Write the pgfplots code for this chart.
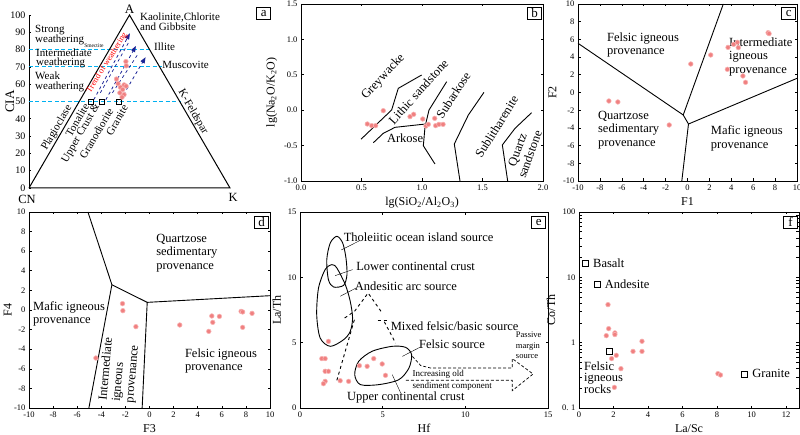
\documentclass[border=0pt]{standalone}
\usepackage{pgfplots}
\pgfplotsset{compat=1.18}
\usepackage{fontspec}
\setmainfont{Liberation Serif}
\usetikzlibrary{arrows.meta}
\definecolor{ptfill}{RGB}{240,128,128}
\definecolor{ptdraw}{RGB}{248,180,180}
\definecolor{cyanl}{RGB}{0,176,240}
\definecolor{dblue}{RGB}{25,35,150}
\pgfplotsset{
  base/.style={scale only axis, anchor=south west, clip=false,
    tick label style={font=\fontsize{8.5}{8.5}\selectfont},
    label style={font=\fontsize{12}{12}\selectfont},
    /pgf/number format/assume math mode=true,
    tick align=inside, major tick length=2.5pt,
    axis line style={line width=0.9pt},
    every tick/.style={black, line width=0.6pt},
  },
  smp/.style={only marks, mark=*, mark size=2.3pt, mark options={fill=ptfill, draw=ptdraw, line width=0.6pt}},
  bnd/.style={black, line width=0.9pt, mark=none},
}
\tikzset{reg/.style={font=\fontsize{12.5}{13.3}\selectfont, align=left, anchor=north west, inner sep=0pt},
  lab/.style={font=\fontsize{12.5}{13}\selectfont, anchor=west, inner sep=0pt},
  la/.style={font=\fontsize{11}{11}\selectfont, anchor=west, inner sep=0pt}}
\newcommand{\plab}[3]{\node[draw, line width=0.7pt, inner sep=0pt, minimum width=14pt, minimum height=12pt, anchor=north east, font=\fontsize{13}{13}\selectfont, fill=white, xshift=#2, yshift=#3] at (rel axis cs:1,1) {#1};}
\begin{document}
\begin{tikzpicture}
\path[use as bounding box] (0,0) rectangle (800pt,434pt);
% ---------------- panel a ----------------
\begin{axis}[base, at={(29pt,246pt)}, width=201pt, height=173pt,
  xmin=0,xmax=100,ymin=0,ymax=100, axis x line=none, axis y line*=left,
  ytick={0,10,...,100}, tick label style={font=\fontsize{10}{10}\selectfont},
  ylabel={CIA}, every axis y label/.style={at={(axis description cs:-0.095,0.5)}, rotate=90, anchor=center, font=\fontsize{13}{13}\selectfont}]
\addplot[cyanl, line width=1.1pt, dash pattern=on 4pt off 2.5pt] coordinates {(0,50.2)(75.5,50.2)};
\addplot[cyanl, line width=1pt, dash pattern=on 4pt off 2.5pt] coordinates {(0,70)(66,70)};
\addplot[cyanl, line width=1pt, dash pattern=on 4pt off 2.5pt] coordinates {(0,80)(61,80)};
\addplot[bnd, line width=1pt] coordinates {(0,0)(50,100)(100,0)(0,0)};
\addplot[dblue, dashed, line width=0.8pt, -{Triangle[length=6pt,width=4.5pt]}] coordinates {(32.2,51)(50.2,89.4)};
\addplot[dblue, dashed, line width=0.8pt, -{Triangle[length=6pt,width=4.5pt]}] coordinates {(38.2,51)(53.2,82.1)};
\addplot[dblue, dashed, line width=0.8pt, -{Triangle[length=6pt,width=4.5pt]}] coordinates {(45.5,51)(58,75.6)};
\addplot[dblue, dashed, line width=0.7pt] coordinates {(35.5,55)(49.5,84)};
\addplot[dblue, dashed, line width=0.7pt] coordinates {(41.5,55)(54,77)};
\addplot[only marks, mark=square, mark size=2.6pt, black, line width=0.7pt, mark options={fill=white}] coordinates {(30.6,50)(36.2,50)(44.9,50)};
\addplot[smp] coordinates {(48.2,73.1)(48.4,70.6)(43.5,63)(44.3,60.3)(45.5,58.2)(47.3,59.6)(48.3,58.9)(46.6,56.9)(45.2,55.0)(47.3,54.0)(46.3,52.5)};
\node[font=\fontsize{13}{13}\selectfont, anchor=south, inner sep=1pt] at (axis cs:50,100) {A};
\node[font=\fontsize{12.5}{13}\selectfont] at (axis cs:-1,-6.4) {CN};
\node[font=\fontsize{12.5}{13}\selectfont] at (axis cs:101.5,-5.2) {K};
\node[la] at (axis cs:3,91.3) {Strong};
\node[la] at (axis cs:3,85.5) {weathering};
\node[font=\fontsize{5.5}{5.5}\selectfont, anchor=west, inner sep=0pt] at (axis cs:27.4,82.3) {Smectite};
\node[la] at (axis cs:3.5,78) {Intermediate};
\node[la] at (axis cs:3.5,72.3) {weathering};
\node[la] at (axis cs:3,64.7) {Weak};
\node[la] at (axis cs:3,58.4) {weathering};
\node[la] at (axis cs:55.2,98.8) {Kaolinite,Chlorite};
\node[la] at (axis cs:55.2,93.1) {and Gibbsite};
\node[la] at (axis cs:62.2,81.5) {Illite};
\node[la] at (axis cs:66.2,71.1) {Muscovite};
\node[font=\fontsize{11}{11}\selectfont, rotate=-59.8] at (axis cs:81.6,43.9) {K-Feldspar};
\node[font=\fontsize{11}{11}\selectfont, rotate=59.8] at (axis cs:13.9,34.7) {Plagioclase};
\node[font=\fontsize{11}{11}\selectfont, rotate=59.8] at (axis cs:24,39.3) {Tonalite};
\node[font=\fontsize{11}{11}\selectfont, rotate=59.8] at (axis cs:25.9,31.5) {Upper Crust \&};
\node[font=\fontsize{11}{11}\selectfont, rotate=59.8] at (axis cs:33.5,31.5) {Granodiorite};
\node[font=\fontsize{11}{11}\selectfont, rotate=59.8] at (axis cs:43.8,39.3) {Granite};
\node[font=\fontsize{8.5}{8.5}\selectfont, rotate=58, red] at (axis cs:38.8,72.3) {Trend of weathering};
\plab{a}{41pt}{8pt}
\end{axis}
% ---------------- panel b ----------------
\begin{axis}[base, at={(301pt,253pt)}, width=242pt, height=177pt,
  xmin=0,xmax=2,ymin=-1,ymax=1.5, xtick={0,0.5,1,1.5,2}, ytick={-1,-0.5,0,0.5,1,1.5},
  xticklabel style={/pgf/number format/.cd, fixed, fixed zerofill, precision=1},
  yticklabel style={/pgf/number format/.cd, fixed, fixed zerofill, precision=1},
  xlabel={lg(SiO\textsubscript{2}/Al\textsubscript{2}O\textsubscript{3})},
  ylabel={lg(Na\textsubscript{2}O/K\textsubscript{2}O)}]
\addplot[bnd] coordinates {(0.496,-0.41)(0.749,0.003)(0.804,0.309)(0.997,0.497)};
\addplot[bnd] coordinates {(0.598,-0.459)(0.68,-0.327)(0.777,-0.242)(1.03,-0.195)};
\addplot[bnd] coordinates {(1.107,-0.76)(1.011,-0.502)(1.025,-0.234)(1.058,0.003)(1.204,0.403)};
\addplot[bnd] coordinates {(1.314,-1.0)(1.267,-0.477)(1.383,-0.068)(1.512,0.252)};
\addplot[bnd] coordinates {(1.708,-1.0)(1.664,-0.491)(1.769,-0.256)(1.906,-0.035)};
\addplot[smp] coordinates {(0.548,-0.195)(0.584,-0.218)(0.617,-0.218)(0.680,-0.007)(0.901,-0.091)(0.931,-0.058)(1.006,-0.124)(1.033,-0.223)(1.052,-0.2)(1.105,-0.115)(1.113,-0.218)(1.14,-0.2)(1.174,-0.2)};
\node[font=\fontsize{12.5}{13}\selectfont, rotate=47] at (axis cs:0.68,0.47) {Greywacke};
\node[font=\fontsize{12.5}{13}\selectfont, rotate=48] at (axis cs:0.97,0.262) {Lithic sandstone};
\node[font=\fontsize{12.5}{13}\selectfont, rotate=57] at (axis cs:1.259,0.215) {Subarkose};
\node[font=\fontsize{12.5}{13}\selectfont] at (axis cs:0.86,-0.40) {Arkose};
\node[font=\fontsize{12.5}{13}\selectfont, rotate=58] at (axis cs:1.617,-0.233) {Sublitharenite};
\node[font=\fontsize{12.5}{13.3}\selectfont, rotate=70, align=center] at (axis cs:1.84,-0.59) {Quartz\\sandstone};
\plab{b}{-1pt}{-3pt}
\end{axis}
% ---------------- panel c ----------------
\begin{axis}[base, at={(578pt,253pt)}, width=219pt, height=177pt,
  xmin=-10,xmax=10,ymin=-10,ymax=10, xtick={-10,-8,...,10}, ytick={-10,-8,...,10},
  xlabel={F1}, ylabel={F2}]
\addplot[bnd] coordinates {(-10,5.56)(-0.39,-2.54)};
\addplot[bnd] coordinates {(-0.39,-2.54)(3.27,10)};
\addplot[bnd] coordinates {(-0.39,-2.54)(0.09,-3.56)};
\addplot[bnd] coordinates {(0.09,-3.56)(10,1.6)};
\addplot[bnd] coordinates {(0.09,-3.56)(-0.52,-10)};
\addplot[smp] coordinates {(-7.18,-0.96)(-6.36,-1.07)(-1.67,-3.67)(0.30,3.22)(2.12,4.24)(3.70,5.1)(4.21,5.44)(4.55,5.67)(4.64,5.07)(3.64,2.62)(5.06,1.87)(5.3,1.15)(7.36,6.76)(7.45,6.65)};
\node[reg] at (axis cs:-7.36,6.8) {Felsic igneous\\provenance};
\node[reg] at (axis cs:3.79,6.2) {Intermediate\\igneous\\provenance};
\node[reg] at (axis cs:-8.18,-2.09) {Quartzose\\sedimentary\\provenance};
\node[reg] at (axis cs:2.12,-3.78) {Mafic igneous\\provenance};
\plab{c}{-1pt}{-3pt}
\end{axis}
% ---------------- panel d ----------------
\begin{axis}[base, at={(29pt,26pt)}, width=241pt, height=196pt,
  xmin=-10,xmax=10,ymin=-10,ymax=10, xtick={-10,-8,...,10}, ytick={-10,-8,...,10},
  xlabel={F3}, ylabel={F4}, every axis y label/.style={at={(axis description cs:-0.088,0.5)}, rotate=90, anchor=center, font=\fontsize{12}{12}\selectfont}]
\addplot[bnd] coordinates {(-5.11,10)(-3.12,2.58)};
\addplot[bnd] coordinates {(-3.12,2.58)(-0.19,0.78)};
\addplot[bnd] coordinates {(-0.19,0.78)(10,1.46)};
\addplot[bnd] coordinates {(-3.12,2.58)(-5.03,-10)};
\addplot[bnd] coordinates {(-0.19,0.78)(-0.61,-10)};
\addplot[smp] coordinates {(-2.24,0.65)(-2.21,-0.07)(-1.13,-1.70)(-4.45,-4.9)(2.51,-1.53)(4.92,-2.18)(5.17,-0.61)(5.25,-1.26)(5.8,-0.65)(7.6,-0.14)(7.73,-0.2)(8.51,-0.34)(7.73,-1.77)};
\node[reg] at (axis cs:0.55,7.76) {Quartzose\\sedimentary\\provenance};
\node[reg] at (axis cs:-9.67,0.88) {Mafic igneous\\provenance};
\node[reg] at (axis cs:2.93,-3.95) {Felsic igneous\\provenance};
\node[reg, rotate=85] at (axis cs:-4.3,-9.2) {Intermediate\\igneous\\provenance};
\plab{d}{-1pt}{-4pt}
\end{axis}
% ---------------- panel e ----------------
\begin{axis}[base, at={(300pt,26pt)}, width=248pt, height=196pt,
  xmin=0,xmax=15,ymin=0,ymax=15, xtick={0,5,10,15}, ytick={0,5,10,15},
  xlabel={Hf}, ylabel={La/Th}]
\addplot[bnd, smooth cycle] coordinates {(2.23,13.14)(2.58,12.63)(2.78,11.48)(2.84,10.2)(2.64,9.39)(2.03,9.26)(1.72,9.82)(1.62,11.35)(1.83,12.63)};
\addplot[bnd, smooth cycle] coordinates {(1.93,10.97)(2.23,10.71)(2.74,9.44)(3.04,8.16)(3.18,6.89)(3.04,5.87)(2.64,5.23)(1.83,4.72)(1.22,5.36)(1.01,7.14)(1.12,9.18)(1.52,10.59)};
\addplot[bnd, smooth cycle] coordinates {(3.55,3.57)(4.36,4.34)(5.58,4.72)(6.39,4.64)(6.75,4.08)(6.59,3.06)(5.98,2.17)(4.77,1.79)(3.65,1.79)(3.31,2.55)};
\addplot[bnd, dashed] coordinates {(2.23,2.12)(3.31,6.85)};
\addplot[bnd, dashed] coordinates {(2.70,6.89)(3.3,7.4)(4.12,8.8)(4.97,7.27)};
\addplot[bnd, dashed] coordinates {(4.7,6.68)(5.4,6.68)};
\addplot[bnd, dashed] coordinates {(5.1,6.6)(5.78,4.97)};
\addplot[black, line width=0.7pt, densely dashed] coordinates {(6.8,3.95)(7.3,3.25)(7.9,3.06)(12.84,3.06)(12.84,3.78)(14.1,2.6)(12.84,1.33)(12.84,2.12)(6.39,2.12)};
\addplot[black, line width=0.4pt] coordinates {(2.5,12.1)(3.6,12.8)};
\addplot[black, line width=0.4pt] coordinates {(2.13,10.13)(3.18,10.59)};
\addplot[black, line width=0.4pt] coordinates {(2.43,8.55)(3.39,9.18)};
\addplot[black, line width=0.4pt] coordinates {(6.19,3.95)(7.24,4.64)};
\addplot[black, line width=0.4pt] coordinates {(5.58,2.55)(6.09,1.15)};
\addplot[smp] coordinates {(1.72,5.1)(1.32,3.78)(1.52,3.78)(1.52,2.81)(1.72,2.81)(1.52,2.04)(1.42,1.86)(2.43,2.09)(2.94,2.04)(3.59,3.24)(4.06,3.19)(4.46,3.78)(4.97,3.37)(5.17,2.5)};
\node[lab] at (axis cs:2.64,13.09) {Tholeiitic ocean island source};
\node[lab] at (axis cs:3.39,10.84) {Lower continental crust};
\node[lab] at (axis cs:3.31,9.31) {Andesitic arc source};
\node[lab] at (axis cs:5.48,6.25) {Mixed felsic/basic source};
\node[lab] at (axis cs:7.2,4.9) {Felsic source};
\node[lab] at (axis cs:2.84,0.82) {Upper continental crust};
\node[font=\fontsize{9}{9}\selectfont, anchor=west, inner sep=0pt] at (axis cs:6.8,2.55) {Increasing old};
\node[font=\fontsize{9}{9}\selectfont, anchor=west, inner sep=0pt] at (axis cs:6.8,1.66) {sendiment component};
\node[font=\fontsize{8.5}{10.8}\selectfont, anchor=north west, align=left, inner sep=0pt] at (axis cs:13.05,5.85) {Passive\\margin\\source};
\plab{e}{-2pt}{-4pt}
\end{axis}
% ---------------- panel f ----------------
\begin{axis}[base, at={(579pt,26pt)}, width=220pt, height=196pt,
  xmin=0,xmax=12.75,ymode=log,ymin=0.1,ymax=100, xtick={0,2,...,12},
  ytick={0.1,1,10,100}, yticklabels={0. 1,1,10,100},
  xlabel={La/Sc}, ylabel={Co/Th}]
\addplot[only marks, mark=square, mark size=3pt, black, line width=0.8pt, mark options={fill=white}] coordinates {(0.39,16.6)(1.06,7.7)(1.74,0.735)(9.61,0.33)};
\addplot[smp] coordinates {(1.68,3.82)(1.72,1.64)(1.58,1.28)(2.08,1.41)(2.08,1.33)(3.65,1.05)(3.13,0.736)(3.65,0.736)(2.16,0.64)(1.89,0.57)(2.43,0.40)(2.05,0.207)(8.05,0.336)(8.2,0.32)};
\node[lab] at (axis cs:0.81,16.5) {Basalt};
\node[lab] at (axis cs:1.49,7.9) {Andesite};
\node[lab] at (axis cs:10.04,0.336) {Granite};
\node[reg, font=\fontsize{12.5}{11.7}\selectfont] at (axis cs:0.29,0.52) {Felsic\\igneous\\rocks};
\plab{f}{-1pt}{-4pt}
\end{axis}
\end{tikzpicture}
\end{document}
